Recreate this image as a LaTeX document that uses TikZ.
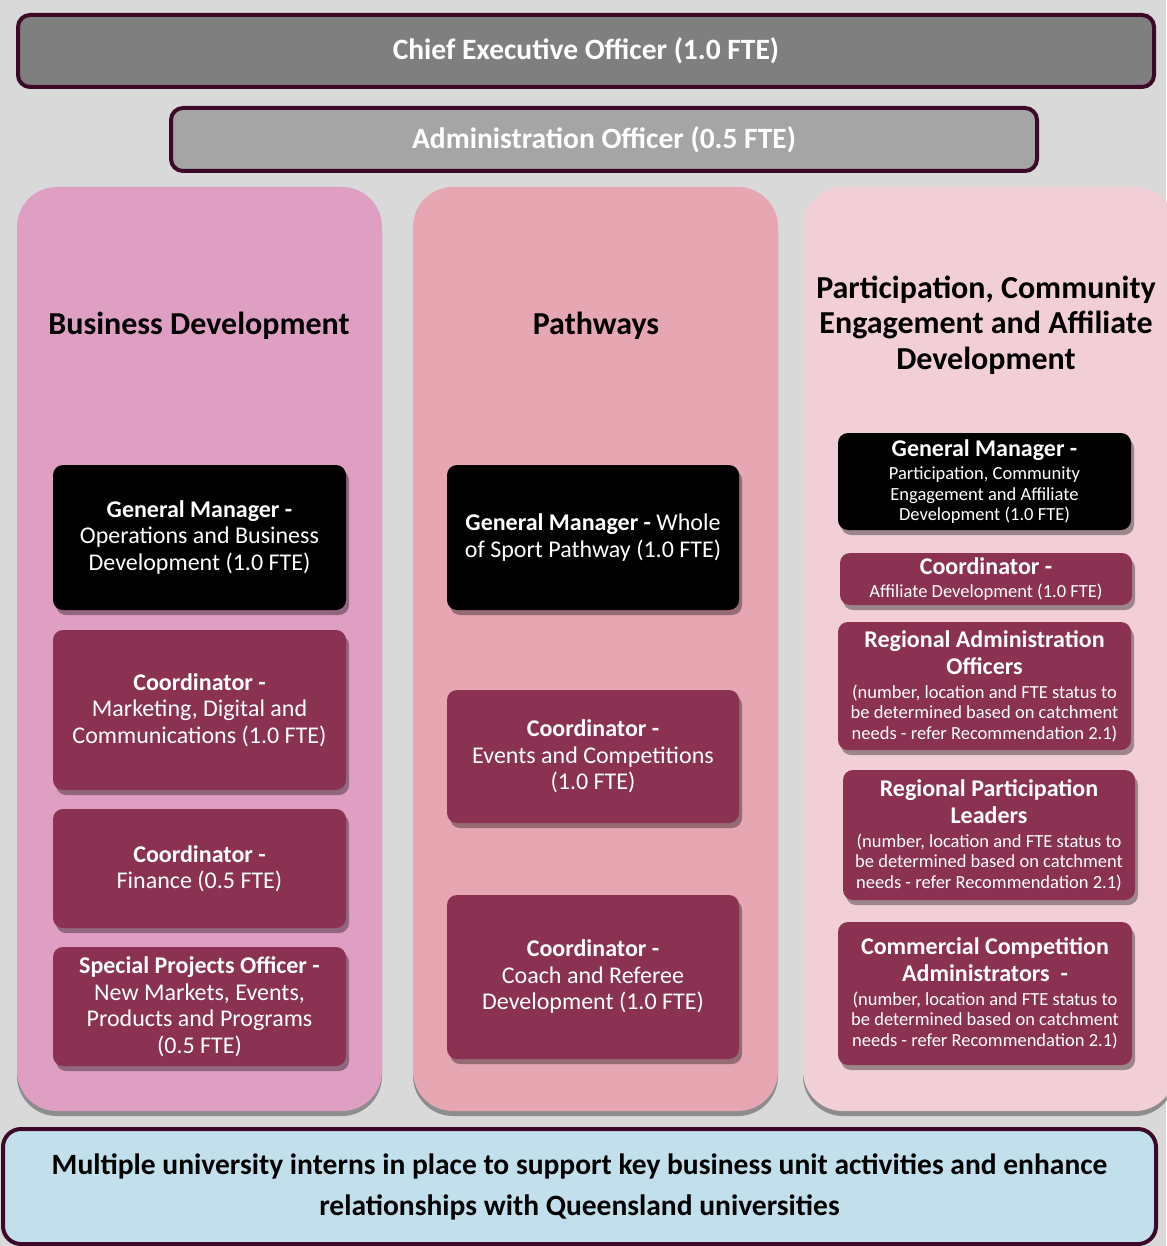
\documentclass[tikz,border=0pt]{standalone}
\usepackage{fontspec}
\setmainfont{Carlito}
\usetikzlibrary{shadows}

\definecolor{pagebg}{HTML}{D9D9D9}
\definecolor{ceogray}{HTML}{7F7F7F}
\definecolor{admingray}{HTML}{A5A5A5}
\definecolor{barline}{HTML}{3C0A28}
\definecolor{colbiz}{HTML}{DF9FC2}
\definecolor{colpath}{HTML}{E6A6B2}
\definecolor{colpart}{HTML}{F2CFD7}
\definecolor{maroon}{HTML}{8B3252}
\definecolor{internblue}{HTML}{C2E0EB}

\newcommand{\bodyfont}{\fontsize{24}{26.5}\selectfont}
\newcommand{\smallbody}{\fontsize{18.5}{20.5}\selectfont}

\begin{document}
\begin{tikzpicture}[x=1pt,y=-1pt,
  topbar/.style={draw=barline, line width=4pt, rounded corners=12pt,
    text=white, font=\bfseries\fontsize{29.5}{32}\selectfont},
  column/.style={rounded corners=40pt,
    drop shadow={shadow xshift=0pt, shadow yshift=-5pt, fill=black, opacity=0.35}},
  heading/.style={align=center, font=\bfseries\fontsize{32}{35.5}\selectfont},
  role/.style={rounded corners=10pt, text=white, align=center, inner sep=2pt,
    drop shadow={shadow xshift=3pt, shadow yshift=-5pt, fill=black, opacity=0.35}},
  gmbox/.style={role, fill=black},
  coordbox/.style={role, fill=maroon},
  bigtext/.style={font=\bodyfont},
  smalltext/.style={font=\smallbody}
]
\useasboundingbox[fill=pagebg] (0,0) rectangle (1166,1246);

% leadership bars
\node[topbar, fill=ceogray, minimum width=1136pt, minimum height=72pt] (ceo) at (586,51)
  {Chief Executive Officer (1.0 FTE)};
\node[topbar, fill=admingray, minimum width=866pt, minimum height=63pt] (admin) at (604,139.5)
  {Administration Officer (0.5 FTE)};

% business unit columns
\node[column, fill=colbiz, minimum width=365pt, minimum height=924pt] (bizcol) at (199.5,649) {};
\node[column, fill=colpath, minimum width=365pt, minimum height=924pt] (pathcol) at (595.5,649) {};
\node[column, fill=colpart, minimum width=372pt, minimum height=924pt] (partcol) at (989,649) {};

\node[heading] (bizhead) at (199,326) {Business Development};
\node[heading] (pathhead) at (596,326) {Pathways};
\node[heading] (parthead) at (986,325) {Participation, Community\\Engagement and Affiliate\\Development};

% Business Development roles
\node[gmbox, bigtext, minimum width=293pt, minimum height=145pt] (gmbiz) at (199.5,537.5)
  {\textbf{General Manager -}\\Operations and Business\\Development (1.0 FTE)};
\node[coordbox, bigtext, minimum width=293pt, minimum height=160pt] (mkt) at (199.5,710)
  {\textbf{Coordinator -}\\Marketing, Digital and\\Communications (1.0 FTE)};
\node[coordbox, bigtext, minimum width=293pt, minimum height=119pt] (fin) at (199.5,868.5)
  {\textbf{Coordinator -}\\Finance (0.5 FTE)};
\node[coordbox, bigtext, minimum width=293pt, minimum height=119pt] (spo) at (199.5,1006.5)
  {\textbf{Special Projects Officer -}\\New Markets, Events,\\Products and Programs\\(0.5 FTE)};

% Pathways roles
\node[gmbox, bigtext, minimum width=292pt, minimum height=145pt] (gmpath) at (593,537.5)
  {\textbf{General Manager -} Whole\\of Sport Pathway (1.0 FTE)};
\node[coordbox, bigtext, minimum width=292pt, minimum height=133pt] (evt) at (593,756.5)
  {\textbf{Coordinator -}\\Events and Competitions\\(1.0 FTE)};
\node[coordbox, bigtext, minimum width=292pt, minimum height=164pt] (coach) at (593,977)
  {\textbf{Coordinator -}\\Coach and Referee\\Development (1.0 FTE)};

% Participation roles
\node[gmbox, smalltext, minimum width=293pt, minimum height=97pt] (gmpart) at (984.5,481.5)
  {{\bfseries\fontsize{24}{26}\selectfont General Manager -}\\[3pt]Participation, Community\\Engagement and Affiliate\\Development (1.0 FTE)};
\node[coordbox, smalltext, minimum width=292pt, minimum height=52pt] (aff) at (986,579)
  {{\bfseries\fontsize{24}{26}\selectfont Coordinator -}\\[3pt]Affiliate Development (1.0 FTE)};
\node[coordbox, smalltext, minimum width=293pt, minimum height=128pt] (rao) at (984.5,686)
  {{\bfseries\fontsize{24}{26}\selectfont Regional Administration}\\[5.5pt]{\bfseries\fontsize{24}{26}\selectfont Officers}\\[3pt](number, location and FTE status to\\be determined based on catchment\\needs - refer Recommendation 2.1)};
\node[coordbox, smalltext, minimum width=292pt, minimum height=130pt] (rpl) at (989,835)
  {{\bfseries\fontsize{24}{26}\selectfont Regional Participation}\\[5.5pt]{\bfseries\fontsize{24}{26}\selectfont Leaders}\\[3pt](number, location and FTE status to\\be determined based on catchment\\needs - refer Recommendation 2.1)};
\node[coordbox, smalltext, minimum width=294pt, minimum height=143pt] (cca) at (985,993.5)
  {{\bfseries\fontsize{24}{26}\selectfont Commercial Competition}\\[5.5pt]{\bfseries\fontsize{24}{26}\selectfont Administrators\ \ -}\\[3pt](number, location and FTE status to\\be determined based on catchment\\needs - refer Recommendation 2.1)};

% interns banner
\node[draw=barline, line width=4pt, rounded corners=18pt, fill=internblue,
  minimum width=1153pt, minimum height=115pt, align=center,
  font=\bfseries\fontsize{29.5}{41}\selectfont] (interns) at (579.5,1186.5)
  {Multiple university interns in place to support key business unit activities and enhance\\relationships with Queensland universities};
\end{tikzpicture}
\end{document}
